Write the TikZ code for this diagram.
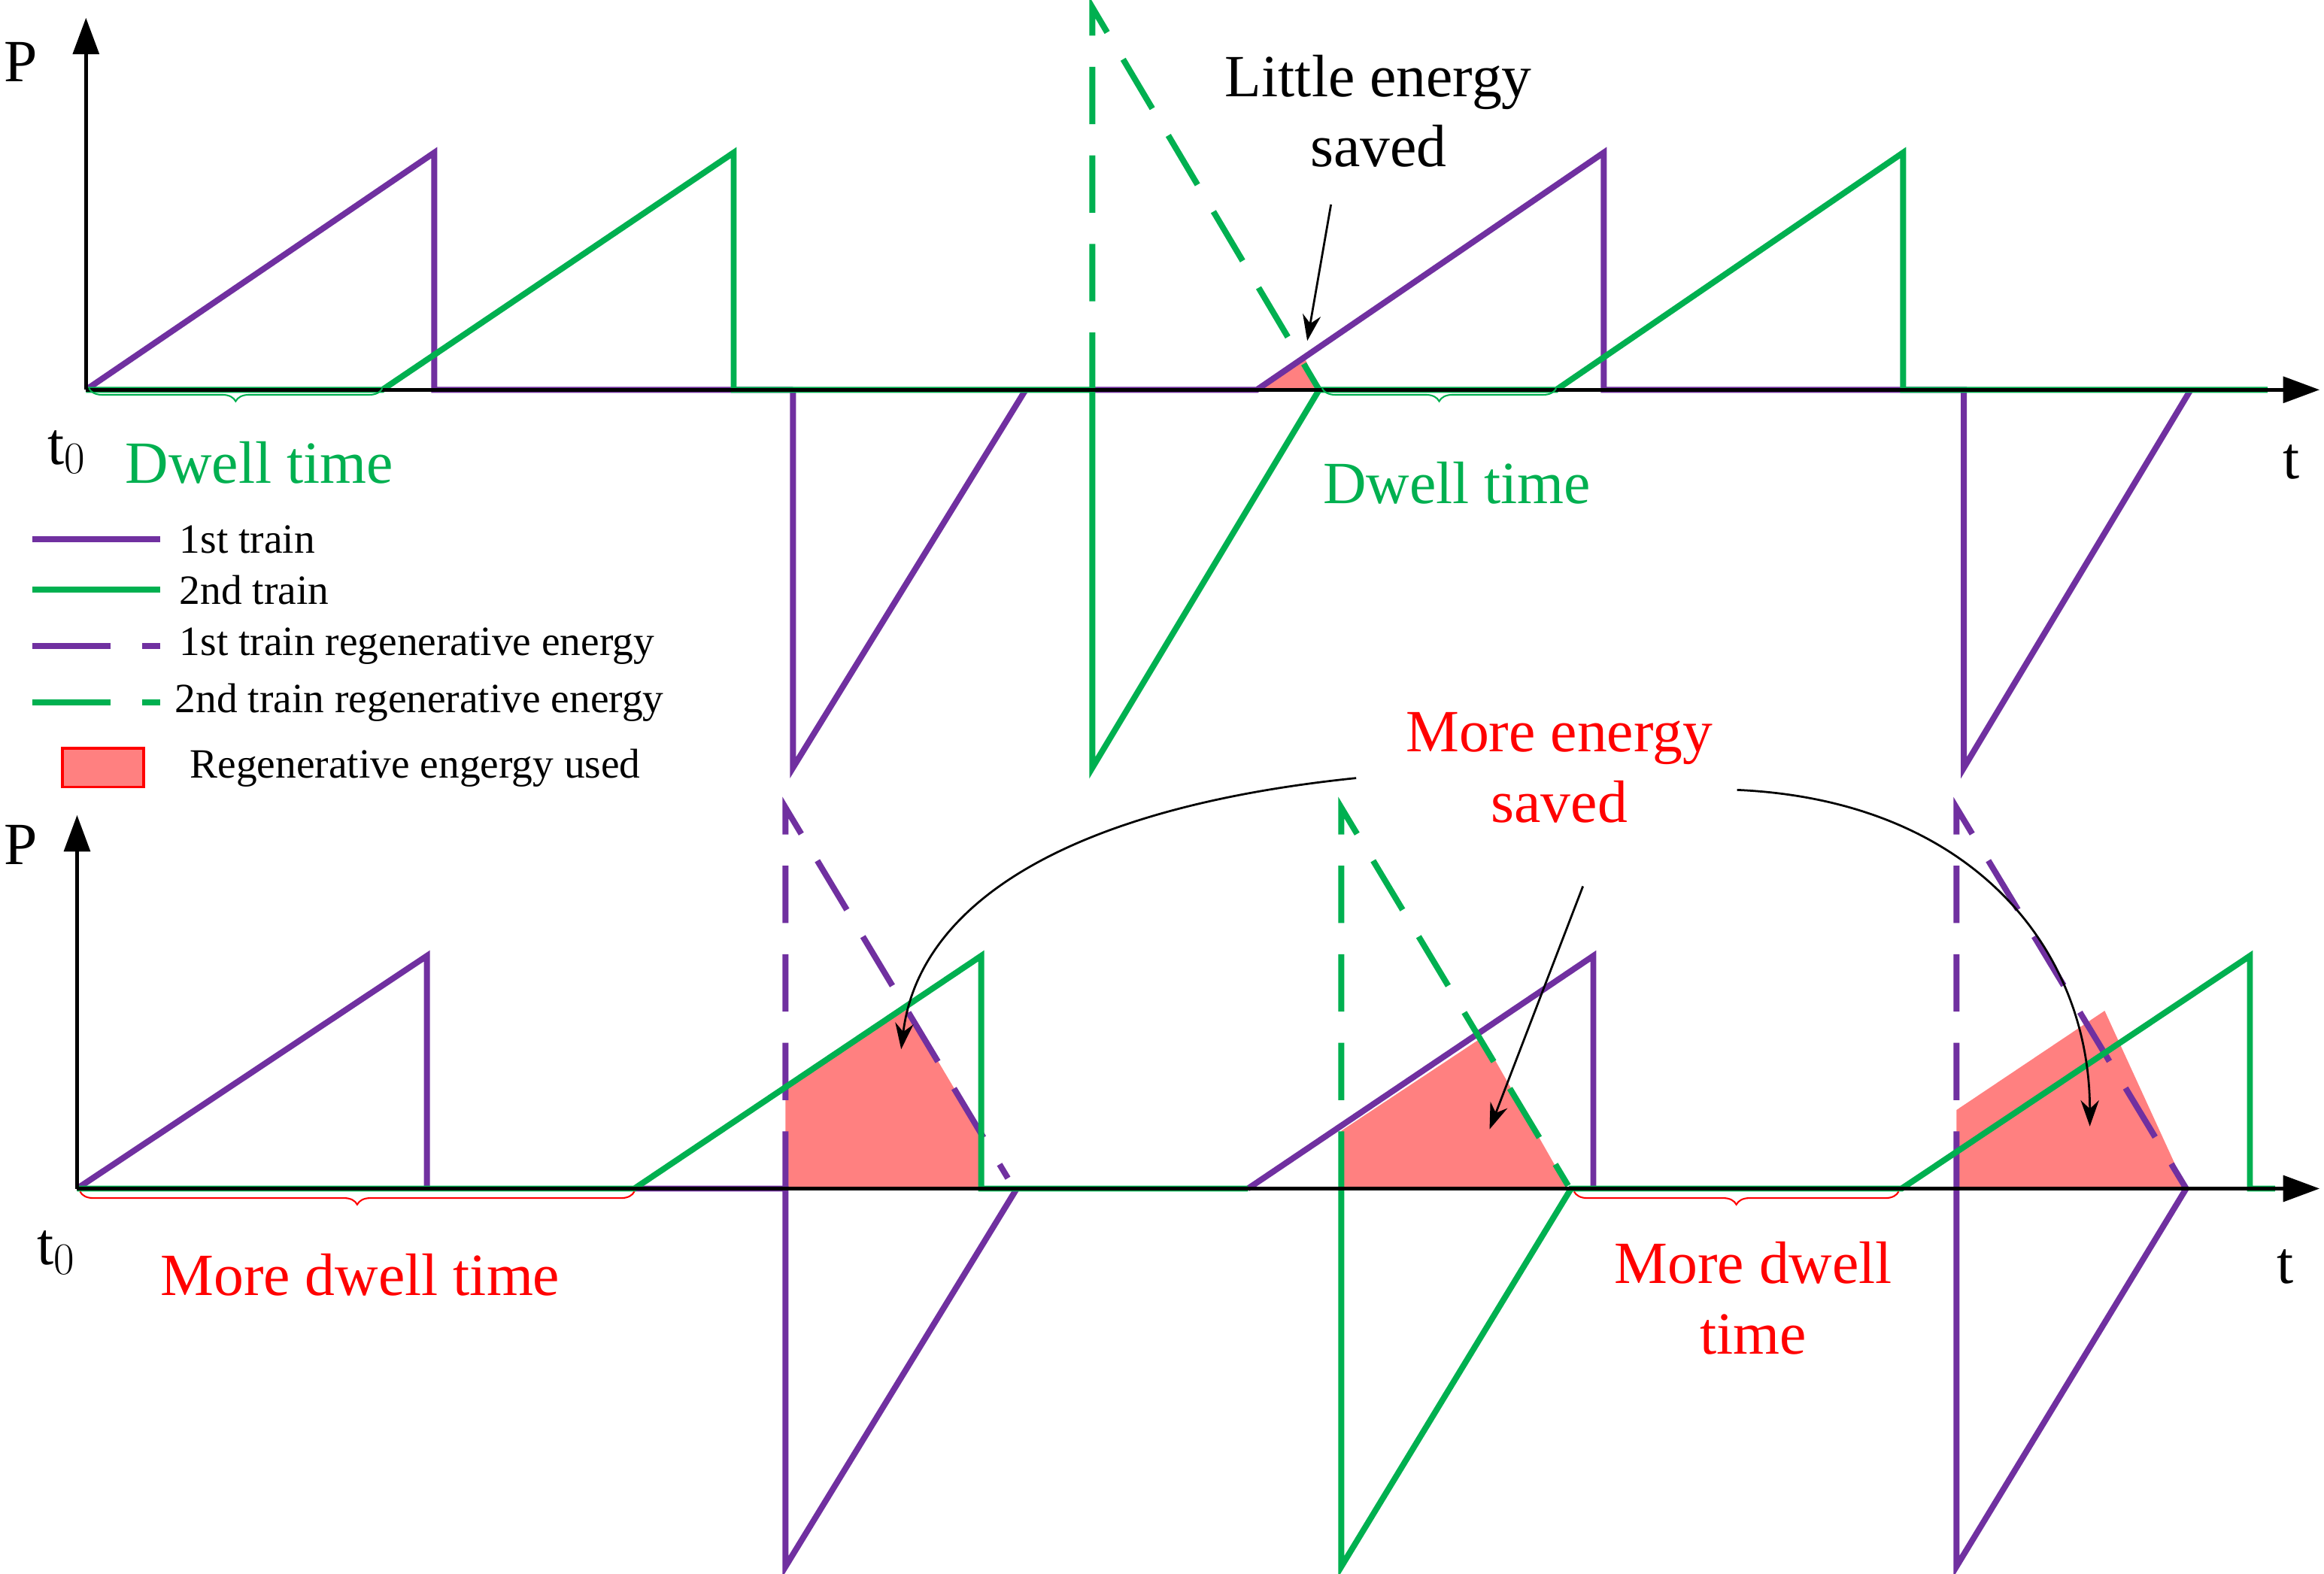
\documentclass[tikz,border=0pt]{standalone}
\usepackage{fontspec}
\setmainfont{Liberation Serif}
\usetikzlibrary{arrows.meta,decorations.pathreplacing}
\definecolor{pur}{HTML}{7030A0}
\definecolor{grn}{HTML}{00B050}
\definecolor{rfill}{HTML}{FF8080}
\begin{document}
\begin{tikzpicture}[x=0.02cm,y=-0.02cm,
 pl/.style={pur,line width=2.3pt,line join=miter},
 gl/.style={grn,line width=2.3pt,line join=miter},
 pd/.style={pl,dash pattern=on 22pt off 12pt},
 gd/.style={gl,dash pattern=on 22pt off 12pt},
 ax/.style={line width=1.3pt,-{Triangle[length=14pt,width=10pt]}},
 big/.style={font=\fontsize{23}{27}\selectfont,align=center},
 leg/.style={font=\fontsize{16}{19}\selectfont,anchor=west},
 brc/.style={decorate,decoration={brace,mirror,amplitude=5pt},line width=0.6pt},
 arr/.style={line width=0.8pt,-{Stealth[length=10pt,width=7pt]}}]
\useasboundingbox (0,0) rectangle (1568,1062);
% ---------- top panel ----------
\fill[rfill] (848,263)--(880,241)--(890,263)--cycle;
\draw[pl] (58,263)--(293,103)--(293,263)--(535,263);
\draw[pl] (535,263)--(535,518)--(692,263);
\draw[pl] (737,263)--(848,263)--(1082,103)--(1082,263)--(1325,263)--(1325,518)--(1478,263);
\draw[gd] (737,263)--(737,5)--(890,263);
\draw[gl] (58,263)--(258,263)--(495,103)--(495,263)--(737,263)--(737,518)--(890,263)--(1050,263)--(1284,103)--(1284,263)--(1530,263);
\draw[ax] (58,263)--(58,12);
\draw[ax] (58,263)--(1565,263);
\node[big] (P1) at (14,42) {P};
\node[big] (t1) at (1546,312) {t};
\node[big] (t01) at (45,305) {t$_0$};
\draw[brc,grn] (60,262)--(258,262);
\node[big,grn] (dw1) at (175,312) {Dwell time};
\draw[brc,grn] (892,262)--(1050,262);
\node[big,grn] (dw2) at (983,326) {Dwell time};
\node[big] (little) at (930,75) {Little energy\\saved};
\coordinate (la) at (898,138); \coordinate (lb) at (882,230);
\draw[arr] (la)--(lb);
% legend
\draw[pl] (22,364)--(108,364); \node[leg] (l1) at (115,364) {1st train};
\draw[gl] (22,398)--(108,398); \node[leg] (l2) at (115,398) {2nd train};
\draw[pd,dash pattern=on 30pt off 12pt] (22,436)--(108,436); \node[leg] (l3) at (115,436) {1st train regenerative energy};
\draw[gd,dash pattern=on 30pt off 12pt] (22,474)--(108,474); \node[leg] (l4) at (112,474) {2nd train regenerative energy};
\draw[red,fill=rfill,line width=1pt] (42,505) rectangle (97,531);
\node[leg] (l5) at (122,518) {Regenerative engergy used};
% ---------- bottom panel ----------
\fill[rfill] (530,802)--(530,734)--(612,681)--(662,765)--(662,802)--cycle;
\fill[rfill] (905,802)--(905,763)--(1000,700)--(1058,802)--cycle;
\fill[rfill] (1320,802)--(1320,749)--(1420,682)--(1475,802)--cycle;
\draw[pl] (52,802)--(288,645)--(288,802);
\draw[pl] (428,802)--(530,802)--(530,1057)--(686,802);
\draw[pd] (530,802)--(530,545)--(680,795);
\draw[pl] (842,802)--(1075,645)--(1075,802);
\draw[pl] (1320,802)--(1320,1057)--(1475,802);
\draw[pd] (1320,802)--(1320,545)--(1475,802);
\draw[gl] (52,802)--(428,802)--(662,645)--(662,802)--(842,802);
\draw[gl] (905,802)--(905,1057)--(1060,802)--(1283,802)--(1518,645)--(1518,802)--(1535,802);
\draw[gd] (905,802)--(905,545)--(1058,800);
\draw[ax] (52,802)--(52,550);
\draw[ax] (52,802)--(1565,802);
\node[big] (P2) at (14,570) {P};
\node[big] (t2) at (1542,855) {t};
\node[big] (t02) at (38,845) {t$_0$};
\draw[brc,red] (54,804)--(428,804);
\node[big,red] (mdw1) at (243,860) {More dwell time};
\draw[brc,red] (1062,804)--(1281,804);
\node[big,red] (mdw2) at (1183,876) {More dwell\\time};
\node[big,red] (mes) at (1052,518) {More energy\\saved};
\coordinate (a1) at (915,525); \coordinate (b1) at (608,708);
\coordinate (a2) at (1172,533); \coordinate (b2) at (1410,760);
\coordinate (a3) at (1068,598); \coordinate (b3) at (1005,762);
\draw[arr] (a1) .. controls (720,545) and (620,610) .. (b1);
\draw[arr] (a2) .. controls (1330,540) and (1410,640) .. (b2);
\draw[arr] (a3)--(b3);
\end{tikzpicture}
\end{document}
